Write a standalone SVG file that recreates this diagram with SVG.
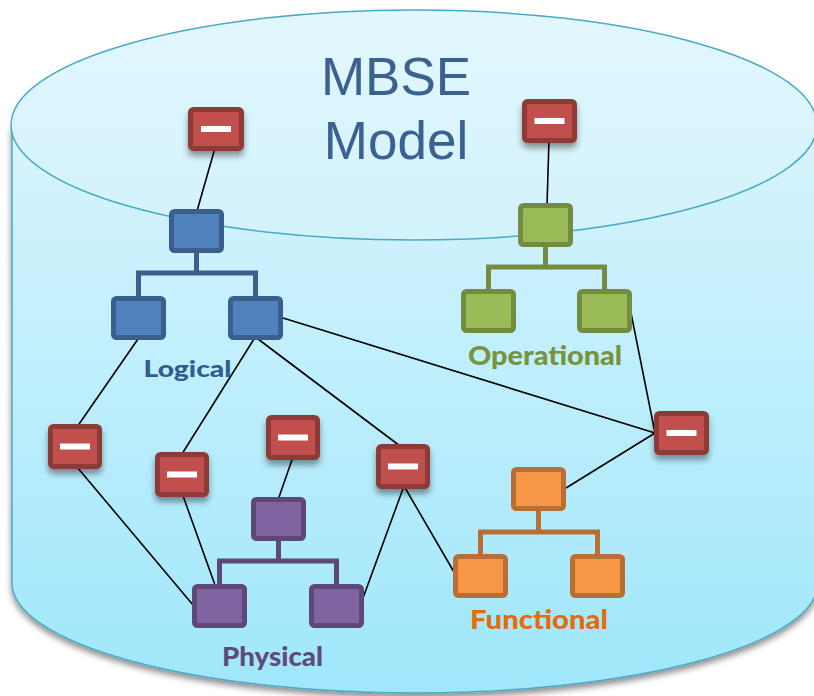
<svg xmlns="http://www.w3.org/2000/svg" width="814" height="696" viewBox="0 0 814 696">
  <defs>
    <linearGradient id="bodyFill" x1="0" y1="0" x2="0" y2="1">
      <stop offset="0" stop-color="#d8f4fd"/>
      <stop offset="1" stop-color="#9fe7fb"/>
    </linearGradient>
    <linearGradient id="topFill" x1="0" y1="0" x2="0" y2="1">
      <stop offset="0" stop-color="#e2f7fd"/>
      <stop offset="1" stop-color="#d2f2fc"/>
    </linearGradient>
    <filter id="cylShadow" x="-5%" y="-5%" width="110%" height="115%">
      <feGaussianBlur in="SourceAlpha" stdDeviation="3"/>
      <feOffset dx="0" dy="4" result="b"/>
      <feComponentTransfer><feFuncA type="linear" slope="0.45"/></feComponentTransfer>
      <feMerge><feMergeNode/><feMergeNode in="SourceGraphic"/></feMerge>
    </filter>
    <filter id="boxShadow" x="-30%" y="-30%" width="160%" height="170%">
      <feGaussianBlur in="SourceAlpha" stdDeviation="3"/>
      <feOffset dx="0" dy="5"/>
      <feComponentTransfer><feFuncA type="linear" slope="0.4"/></feComponentTransfer>
      <feMerge><feMergeNode/><feMergeNode in="SourceGraphic"/></feMerge>
    </filter>
  </defs>
  <style>
    .box { stroke-width: 5; }
    .red { fill: #c0504d; stroke: #8e3a38; }
    .blue { fill: #4f81bd; stroke: #3a5f8e; }
    .green { fill: #9bbb59; stroke: #738c40; }
    .purple { fill: #8064a2; stroke: #5e4878; }
    .orange { fill: #f79646; stroke: #b96f33; }
    .bar { fill: #ffffff; }
    .link { stroke: #000000; stroke-width: 1.6; fill: none; }
    .tree { stroke-width: 5; fill: none; }
    .title { font-family: "Liberation Sans", Arial, sans-serif; font-size: 53px; fill: #3a6190; text-anchor: middle; }
    .label { font-family: Lato, "Open Sans", sans-serif; font-weight: 900; }
  </style>

  <!-- database cylinder -->
  <g id="cylinder">
    <path d="M12,125 L12,583 A403,110 0 0 0 818,583 L818,125 Z" fill="url(#bodyFill)" stroke="#4aa9c6" stroke-width="1.5" filter="url(#cylShadow)"/>
    <ellipse cx="414" cy="125" rx="403" ry="115" fill="url(#topFill)" stroke="#4aa9c6" stroke-width="1.5"/>
    <text class="title" x="396" y="95">MBSE</text>
    <text class="title" x="396" y="159">Model</text>
  </g>

  <!-- connectors: hierarchy bars and trace links -->
  <g id="connectors">
    <path class="tree" stroke="#3a5f8e" d="M196.5,252 V273 M138.5,296 V273 H255.5 V296"/>
    <path class="tree" stroke="#738c40" d="M545.5,246 V267 M488.5,289 V267 H604.5 V289"/>
    <path class="tree" stroke="#5e4878" d="M278.5,541 V561 M219.5,584 V561 H336.5 V584"/>
    <path class="tree" stroke="#b96f33" d="M538.5,510 V532 M480.5,554 V532 H597.5 V554"/>

    <line class="link" x1="215" y1="148" x2="197" y2="211"/>
    <line class="link" x1="549" y1="140" x2="547" y2="205"/>
    <line class="link" x1="138" y1="339" x2="77" y2="427"/>
    <line class="link" x1="254" y1="339" x2="182" y2="454"/>
    <line class="link" x1="258" y1="339" x2="400" y2="446"/>
    <line class="link" x1="283" y1="318" x2="655" y2="433"/>
    <line class="link" x1="631" y1="313" x2="655" y2="433"/>
    <line class="link" x1="655" y1="433" x2="566" y2="488"/>
    <line class="link" x1="77" y1="467" x2="193" y2="605"/>
    <line class="link" x1="182" y1="493" x2="215" y2="585"/>
    <line class="link" x1="293" y1="457" x2="278" y2="500"/>
    <line class="link" x1="404" y1="486" x2="363" y2="598"/>
    <line class="link" x1="404" y1="486" x2="454" y2="572"/>
  </g>

  <!-- logical tree -->
  <g id="logical-root"><rect class="box blue" x="171.5" y="211.5" width="50" height="39" rx="3"/></g>
  <g id="logical-a"><rect class="box blue" x="113.5" y="298.5" width="50" height="39" rx="3"/></g>
  <g id="logical-b"><rect class="box blue" x="230.5" y="298.5" width="50" height="39" rx="3"/></g>
  <text class="label" x="187.5" y="377" font-size="23" fill="#2f5d92" text-anchor="middle" textLength="88" lengthAdjust="spacingAndGlyphs">Logical</text>

  <!-- operational tree -->
  <g id="operational-root"><rect class="box green" x="520.5" y="205.5" width="50" height="39" rx="3"/></g>
  <g id="operational-a"><rect class="box green" x="463.5" y="291.5" width="50" height="39" rx="3"/></g>
  <g id="operational-b"><rect class="box green" x="579.5" y="291.5" width="50" height="39" rx="3"/></g>
  <text class="label" x="545" y="365" font-size="27" fill="#77933c" text-anchor="middle" textLength="154" lengthAdjust="spacingAndGlyphs">Operational</text>

  <!-- physical tree -->
  <g id="physical-root"><rect class="box purple" x="253.5" y="499.5" width="50" height="39" rx="3"/></g>
  <g id="physical-a"><rect class="box purple" x="194.5" y="586.5" width="50" height="39" rx="3"/></g>
  <g id="physical-b"><rect class="box purple" x="311.5" y="586.5" width="50" height="39" rx="3"/></g>
  <text class="label" x="272.5" y="666" font-size="27" fill="#604a7b" text-anchor="middle" textLength="101" lengthAdjust="spacingAndGlyphs">Physical</text>

  <!-- functional tree -->
  <g id="functional-root"><rect class="box orange" x="513.5" y="469.5" width="50" height="39" rx="3"/></g>
  <g id="functional-a"><rect class="box orange" x="455.5" y="556.5" width="50" height="39" rx="3"/></g>
  <g id="functional-b"><rect class="box orange" x="572.5" y="556.5" width="50" height="39" rx="3"/></g>
  <text class="label" x="539" y="629" font-size="27" fill="#e46c0a" text-anchor="middle" textLength="138" lengthAdjust="spacingAndGlyphs">Functional</text>

  <!-- requirement items -->
  <g id="req-1" filter="url(#boxShadow)"><rect class="box red" x="190.5" y="109.5" width="51" height="39" rx="3"/><rect class="bar" x="201" y="126" width="30" height="6"/></g>
  <g id="req-2" filter="url(#boxShadow)"><rect class="box red" x="524.5" y="101.5" width="50" height="39" rx="3"/><rect class="bar" x="534.5" y="118" width="30" height="6"/></g>
  <g id="req-3" filter="url(#boxShadow)"><rect class="box red" x="50.5" y="426.5" width="49" height="40" rx="3"/><rect class="bar" x="60" y="443.5" width="30" height="6"/></g>
  <g id="req-4" filter="url(#boxShadow)"><rect class="box red" x="157.5" y="454.5" width="49" height="40" rx="3"/><rect class="bar" x="167" y="471.5" width="30" height="6"/></g>
  <g id="req-5" filter="url(#boxShadow)"><rect class="box red" x="268.5" y="417.5" width="49" height="40" rx="3"/><rect class="bar" x="278" y="434.5" width="30" height="6"/></g>
  <g id="req-6" filter="url(#boxShadow)"><rect class="box red" x="378.5" y="446.5" width="49" height="40" rx="3"/><rect class="bar" x="388" y="463.5" width="30" height="6"/></g>
  <g id="req-7" filter="url(#boxShadow)"><rect class="box red" x="656.5" y="413.5" width="50" height="39" rx="3"/><rect class="bar" x="666.5" y="430" width="30" height="6"/></g>
</svg>
